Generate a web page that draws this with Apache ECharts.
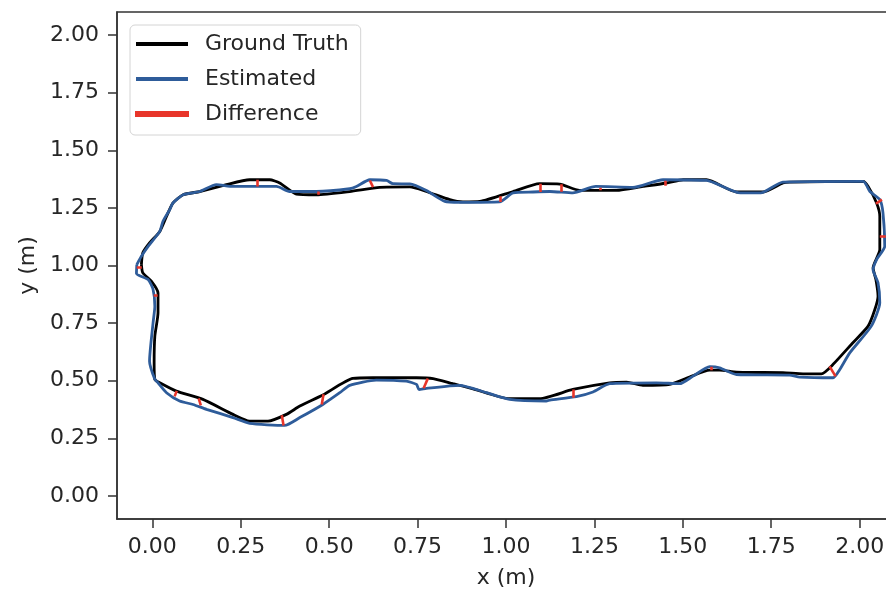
<!DOCTYPE html>
<html>
<head>
<meta charset="utf-8">
<script src="https://cdn.jsdelivr.net/npm/echarts@6/dist/echarts.min.js"></script>
<style>html,body{margin:0;padding:0;background:#fff;}#c{width:886px;height:591px;}</style>
</head>
<body>
<div id="c"></div>
<script>
const xTicks = [0, 0.25, 0.5, 0.75, 1.0, 1.25, 1.5, 1.75, 2.0];
const yTicks = [0, 0.25, 0.5, 0.75, 1.0, 1.25, 1.5, 1.75, 2.0];

const gtX = [-0.031,-0.027,-0.008,0.021,0.040,0.058,0.087,0.134,0.209,0.275,0.332,0.360,0.407,0.464,0.558,0.643,0.728,0.775,0.841,0.878,0.926,1.020,1.095,1.152,1.208,1.312,1.387,1.454,1.501,1.567,1.652,1.727,1.783,1.802,2.010,2.024,2.048,2.057,2.057,2.038,2.046,2.052,2.043,2.024,1.981,1.925,1.892,1.840,1.783,1.652,1.604,1.576,1.519,1.463,1.387,1.341,1.293,1.189,1.095,1.010,0.907,0.850,0.794,0.747,0.624,0.567,0.482,0.417,0.379,0.327,0.275,0.228,0.143,0.068,0.021,0.007,0.005,0.007,0.016,0.016,-0.003,-0.027,-0.031];
const gtY = [1.004,1.055,1.098,1.148,1.213,1.271,1.307,1.321,1.351,1.372,1.372,1.358,1.310,1.307,1.321,1.339,1.341,1.321,1.286,1.276,1.278,1.321,1.355,1.353,1.326,1.326,1.343,1.358,1.372,1.372,1.319,1.319,1.358,1.362,1.365,1.343,1.271,1.213,1.069,0.990,0.939,0.867,0.809,0.737,0.665,0.571,0.530,0.530,0.535,0.537,0.546,0.546,0.516,0.484,0.480,0.494,0.491,0.462,0.422,0.422,0.465,0.487,0.509,0.513,0.513,0.510,0.438,0.390,0.354,0.325,0.325,0.354,0.419,0.455,0.491,0.506,0.578,0.693,0.795,0.881,0.932,0.968,1.004];

const estX = [-0.044,-0.031,-0.012,0.021,0.030,0.049,0.058,0.087,0.134,0.181,0.228,0.351,0.388,0.464,0.558,0.577,0.615,0.662,0.680,0.728,0.775,0.827,0.869,0.982,1.020,1.076,1.124,1.189,1.254,1.359,1.444,1.567,1.663,1.720,1.783,2.010,2.029,2.057,2.066,2.071,2.048,2.038,2.052,2.057,2.033,1.972,1.944,1.925,1.831,1.802,1.652,1.604,1.576,1.529,1.491,1.425,1.293,1.246,1.199,1.124,1.114,1.010,0.945,0.869,0.775,0.754,0.747,0.718,0.633,0.558,0.530,0.482,0.417,0.374,0.275,0.228,0.153,0.115,0.077,0.040,0.016,0.007,-0.008,0.002,0.007,0.002,-0.012,-0.045,-0.044];
const estY = [1.004,1.040,1.083,1.148,1.192,1.242,1.271,1.307,1.321,1.351,1.343,1.343,1.321,1.321,1.333,1.343,1.372,1.369,1.355,1.354,1.325,1.278,1.274,1.276,1.315,1.319,1.321,1.315,1.343,1.339,1.372,1.369,1.315,1.315,1.362,1.365,1.321,1.286,1.228,1.083,1.026,0.982,0.925,0.838,0.737,0.621,0.549,0.513,0.516,0.524,0.527,0.556,0.561,0.520,0.487,0.491,0.487,0.451,0.431,0.416,0.412,0.419,0.448,0.480,0.467,0.462,0.484,0.498,0.503,0.480,0.448,0.397,0.340,0.306,0.315,0.340,0.376,0.397,0.412,0.448,0.491,0.506,0.585,0.751,0.823,0.896,0.939,0.965,1.004];

const diffFromX = [0.297,0.468,0.624,0.984,1.097,1.157,1.267,1.449,2.046,2.057,1.915,1.581,1.189,0.779,0.484,0.366,0.131,0.069,-0.030,0.015];
const diffFromY = [1.372,1.307,1.340,1.301,1.355,1.353,1.326,1.346,1.268,1.125,0.562,0.546,0.462,0.510,0.441,0.350,0.423,0.456,0.991,0.870];
const diffToX   = [0.297,0.468,0.615,0.984,1.097,1.157,1.267,1.449,2.063,2.074,1.932,1.581,1.189,0.767,0.479,0.371,0.137,0.063,-0.044,0.004];
const diffToY   = [1.343,1.321,1.369,1.276,1.319,1.320,1.337,1.368,1.286,1.125,0.519,0.561,0.426,0.467,0.397,0.306,0.393,0.432,0.991,0.870];

const FONT = 'DejaVu Sans';
const TXT = '#262626';
const GT_C = '#000000', EST_C = '#2e5c9a', DIFF_C = '#e8352a';

const gtData = gtX.map((x, i) => [x, gtY[i]]);
const estData = estX.map((x, i) => [x, estY[i]]);
const diffData = diffFromX.map((x, i) => ({ coords: [[x, diffFromY[i]], [diffToX[i], diffToY[i]]] }));

const axisCommon = (ticks, isX) => ({
  type: 'value', min: -0.1, max: 2.1,
  axisLine: { show: true, onZero: false, lineStyle: { color: '#333', width: 1.5 } },
  splitLine: { show: false },
  axisTick: { show: true, inside: false, customValues: ticks, length: 9, lineStyle: { color: '#333', width: 1.5 } },
  axisLabel: { customValues: ticks, formatter: v => v.toFixed(2), fontSize: 22, fontFamily: FONT, color: TXT, margin: isX ? 17 : 18 },
  nameLocation: 'middle',
  nameTextStyle: { fontSize: 22, fontFamily: FONT, color: TXT }
});

const chart = echarts.init(document.getElementById('c'), null, { renderer: 'canvas' });
chart.setOption({
  animation: false,
  backgroundColor: '#fff',
  grid: { left: 117, top: 12, width: 778, height: 507, outerBoundsMode: 'none', containLabel: false,
          show: true, borderColor: '#333', borderWidth: 1.5, backgroundColor: 'transparent' },
  xAxis: Object.assign(axisCommon(xTicks, true), { position: 'bottom', name: 'x (m)', nameGap: 48 }),
  yAxis: Object.assign(axisCommon(yTicks, false), { position: 'left', name: 'y (m)', nameGap: 78 }),
  legend: {
    orient: 'vertical', left: 130, top: 25,
    padding: [8, 12, 10, 5],
    itemWidth: 52, itemHeight: 4, itemGap: 13,
    icon: 'rect',
    backgroundColor: '#fff', borderColor: '#d4d4d4', borderWidth: 1, borderRadius: 5,
    textStyle: { fontSize: 22, fontFamily: FONT, color: TXT, lineHeight: 22, padding: [0, 0, 0, 12] },
    data: [
      { name: 'Ground Truth', itemStyle: { color: GT_C } },
      { name: 'Estimated', itemStyle: { color: EST_C } },
      { name: 'Difference', itemStyle: { color: DIFF_C } }
    ]
  },
  series: [
    { name: 'Ground Truth', type: 'line', data: gtData, showSymbol: false, symbol: 'none', smooth: 0.2,
      color: GT_C, lineStyle: { color: GT_C, width: 2.8 }, z: 2 },
    { name: 'Estimated', type: 'line', data: estData, showSymbol: false, symbol: 'none', smooth: 0.2,
      color: EST_C, lineStyle: { color: EST_C, width: 2.8 }, z: 3 },
    { name: 'Difference', type: 'lines', coordinateSystem: 'cartesian2d', data: diffData,
      color: DIFF_C, lineStyle: { color: DIFF_C, width: 2.6, opacity: 1 }, z: 4 }
  ]
});
</script>
</body>
</html>
